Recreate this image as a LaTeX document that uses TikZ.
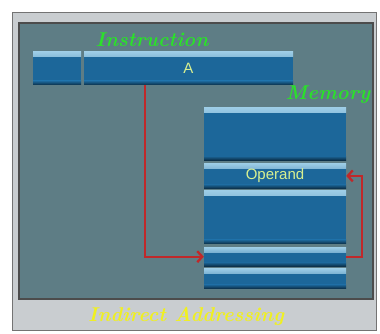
\documentclass[tikz,border=0pt]{standalone}
\usepackage{fontspec}
\setsansfont{Liberation Sans}
\usetikzlibrary{positioning, arrows.meta}
\definecolor{panel}{HTML}{5E7D85}
\definecolor{framegray}{HTML}{C9CDD0}
\definecolor{cellblue}{HTML}{1C679A}
\definecolor{cellhi}{HTML}{9CCCE6}
\definecolor{celllo}{HTML}{0B2F48}
\definecolor{arrowred}{HTML}{C0282A}
\definecolor{labelgreen}{HTML}{2BE02B}
\definecolor{captionyellow}{HTML}{F0F020}
\definecolor{celltext}{HTML}{D8F090}

\begin{document}
\begin{tikzpicture}[x=1pt, y=-1pt,
  cell/.style={rectangle, fill=cellblue, inner sep=0pt, text=celltext,
    font=\fontsize{15}{17}\selectfont\sffamily,
    path picture={
      \shade[top color=cellhi, bottom color=cellblue] (path picture bounding box.north west) rectangle ([yshift=-5pt]path picture bounding box.north east);
      \shade[top color=cellblue, bottom color=celllo] ([yshift=4pt]path picture bounding box.south west) rectangle (path picture bounding box.south east);}},
  memcell/.style={cell, minimum width=142pt},
  title/.style={font=\fontsize{20}{23}\selectfont\bfseries\itshape},
  flow/.style={draw=arrowred, line width=2.3pt, -{Straight Barb[length=5pt, width=11pt]}}]
   \useasboundingbox (0,0) rectangle (380,334);
   % frame and panel
   \filldraw[fill=framegray, draw=black!55] (12,12) rectangle (376,330);
   \filldraw[fill=panel, draw=black!70, line width=1.5pt] (19,23) rectangle (373,299);
   % instruction
   \node[cell, minimum width=48pt, minimum height=33pt] (opcode) at (57,68.5) {};
   \node[cell, minimum width=209pt, minimum height=33pt] (addr) at (188.5,68.5) {A};
   \node[title, text=labelgreen] (instrlabel) at (152,40) {Instruction};
   % memory
   \node[memcell, minimum height=52pt] (mem1) at (275,134) {};
   \node[memcell, minimum height=25pt, below=3pt of mem1] (operand) {Operand};
   \node[memcell, minimum height=53pt, below=2pt of operand] (mem3) {};
   \node[memcell, minimum height=19pt, below=3pt of mem3] (mem4) {};
   \node[memcell, minimum height=20pt, below=2pt of mem4] (mem5) {};
   \node[title, text=labelgreen] (memlabel) at (328,95) {Memory};
   % pointers
   \draw[flow] ([xshift=-43.5pt]addr.south) |- (mem4.west);
   \draw[flow] (mem4.east) -- ++(16,0) |- (operand.east);
   \node[title, text=captionyellow] (caption) at (186,316) {Indirect Addressing};
\end{tikzpicture}
\end{document}
